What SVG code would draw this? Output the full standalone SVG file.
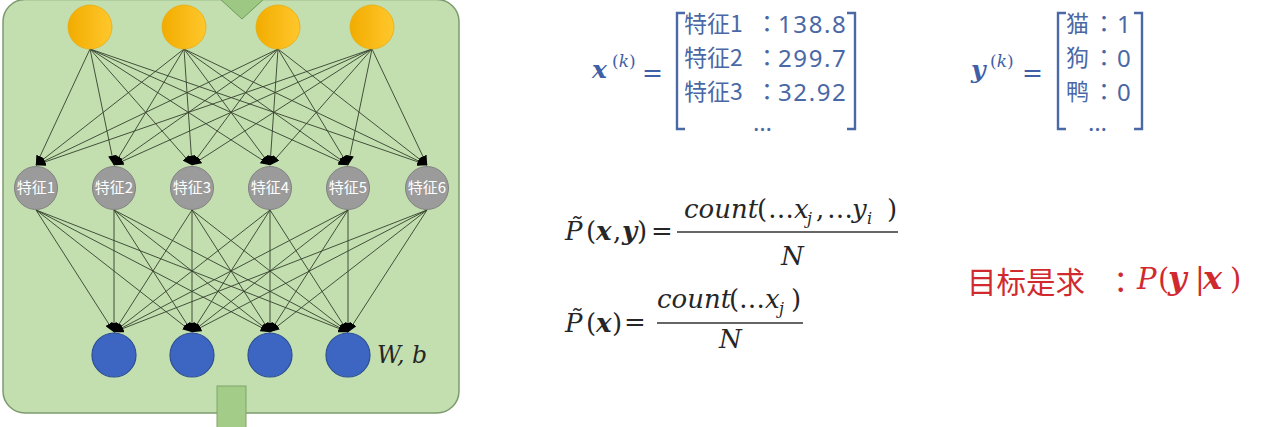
<svg xmlns="http://www.w3.org/2000/svg" width="1274" height="427" viewBox="0 0 1274 427">
<style>
.ln{stroke:#34402c;stroke-width:0.9;fill:none;marker-end:url(#ah)}
.yel{fill:url(#yg);stroke:#e8ac10;stroke-width:0.8}
.gry{fill:#9b9b9b;stroke:#828282;stroke-width:1}
.blu{fill:#3d66c3;stroke:#2c4f93;stroke-width:1.2}
.glab{font-family:"Noto Sans CJK SC","Noto Sans",sans-serif;font-size:15px;fill:#ffffff;text-anchor:middle}
.mt{font-family:"Noto Sans CJK SC","Noto Sans",sans-serif;font-size:23px;fill:#4a68a6}
.md{font-family:"Noto Sans","Noto Sans CJK SC",sans-serif;font-size:24px;fill:#4a68a6}
.mc{font-family:"Noto Sans CJK TC","Noto Sans CJK SC",sans-serif;font-size:23px;fill:#4a68a6;text-anchor:middle}
.br{fill:none;stroke:#4a68a6;stroke-width:2.4}
.vb{font-family:"DejaVu Serif",serif;font-style:italic;font-weight:bold}
.vi{font-family:"DejaVu Serif",serif;font-style:italic;font-weight:normal}
.vu{font-family:"DejaVu Serif",serif;font-style:normal;font-weight:normal}
.blue{fill:#3f5fa6}
.blk{fill:#262626}
.red{fill:#d02a2e}
.fr{stroke:#333333;stroke-width:1.5}
</style>
<defs>
<linearGradient id="yg" x1="0" y1="0" x2="1" y2="0">
<stop offset="0" stop-color="#f2ac00"/>
<stop offset="1" stop-color="#ffc72c"/>
</linearGradient>
<marker id="ah" markerWidth="10" markerHeight="8" refX="9.5" refY="4" orient="auto" markerUnits="userSpaceOnUse">
<path d="M0,0 L10,4 L0,8 z" fill="#000000"/>
</marker>
</defs>
<rect width="1274" height="427" fill="#ffffff"/>
<g id="panel">
<rect x="3" y="-0.5" width="456" height="413.5" rx="22" ry="22" fill="#c3dfb0" stroke="#7d9a6e" stroke-width="1.5"/>
<polygon points="219,-2 265,-2 242,19" fill="#9dc884" stroke="#6f9a5a" stroke-width="1"/>
<rect x="217" y="386" width="29" height="45" fill="#a3cc88" stroke="#7fa566" stroke-width="1"/>
</g>
<g id="connectors">
<line class="ln" x1="90" y1="49" x2="36" y2="165"/><line class="ln" x1="90" y1="49" x2="114" y2="165"/><line class="ln" x1="90" y1="49" x2="192" y2="165"/><line class="ln" x1="90" y1="49" x2="270" y2="165"/><line class="ln" x1="90" y1="49" x2="348" y2="165"/><line class="ln" x1="90" y1="49" x2="427" y2="165"/>
<line class="ln" x1="184" y1="49" x2="36" y2="165"/><line class="ln" x1="184" y1="49" x2="114" y2="165"/><line class="ln" x1="184" y1="49" x2="192" y2="165"/><line class="ln" x1="184" y1="49" x2="270" y2="165"/><line class="ln" x1="184" y1="49" x2="348" y2="165"/><line class="ln" x1="184" y1="49" x2="427" y2="165"/>
<line class="ln" x1="278" y1="49" x2="36" y2="165"/><line class="ln" x1="278" y1="49" x2="114" y2="165"/><line class="ln" x1="278" y1="49" x2="192" y2="165"/><line class="ln" x1="278" y1="49" x2="270" y2="165"/><line class="ln" x1="278" y1="49" x2="348" y2="165"/><line class="ln" x1="278" y1="49" x2="427" y2="165"/>
<line class="ln" x1="372" y1="49" x2="36" y2="165"/><line class="ln" x1="372" y1="49" x2="114" y2="165"/><line class="ln" x1="372" y1="49" x2="192" y2="165"/><line class="ln" x1="372" y1="49" x2="270" y2="165"/><line class="ln" x1="372" y1="49" x2="348" y2="165"/><line class="ln" x1="372" y1="49" x2="427" y2="165"/>
<line class="ln" x1="36" y1="210" x2="114" y2="332"/><line class="ln" x1="36" y1="210" x2="192" y2="332"/><line class="ln" x1="36" y1="210" x2="270" y2="332"/><line class="ln" x1="36" y1="210" x2="348" y2="332"/>
<line class="ln" x1="114" y1="210" x2="114" y2="332"/><line class="ln" x1="114" y1="210" x2="192" y2="332"/><line class="ln" x1="114" y1="210" x2="270" y2="332"/><line class="ln" x1="114" y1="210" x2="348" y2="332"/>
<line class="ln" x1="192" y1="210" x2="114" y2="332"/><line class="ln" x1="192" y1="210" x2="192" y2="332"/><line class="ln" x1="192" y1="210" x2="270" y2="332"/><line class="ln" x1="192" y1="210" x2="348" y2="332"/>
<line class="ln" x1="270" y1="210" x2="114" y2="332"/><line class="ln" x1="270" y1="210" x2="192" y2="332"/><line class="ln" x1="270" y1="210" x2="270" y2="332"/><line class="ln" x1="270" y1="210" x2="348" y2="332"/>
<line class="ln" x1="348" y1="210" x2="114" y2="332"/><line class="ln" x1="348" y1="210" x2="192" y2="332"/><line class="ln" x1="348" y1="210" x2="270" y2="332"/><line class="ln" x1="348" y1="210" x2="348" y2="332"/>
<line class="ln" x1="427" y1="210" x2="114" y2="332"/><line class="ln" x1="427" y1="210" x2="192" y2="332"/><line class="ln" x1="427" y1="210" x2="270" y2="332"/><line class="ln" x1="427" y1="210" x2="348" y2="332"/>
</g>
<g id="input1"><circle class="yel" cx="90" cy="27" r="22"/></g>
<g id="input2"><circle class="yel" cx="184" cy="27" r="22"/></g>
<g id="input3"><circle class="yel" cx="278" cy="27" r="22"/></g>
<g id="input4"><circle class="yel" cx="372" cy="27" r="22"/></g>
<g id="feat1"><circle class="gry" cx="36" cy="188" r="21.5"/><text class="glab" x="36" y="193">特征1</text></g>
<g id="feat2"><circle class="gry" cx="114" cy="188" r="21.5"/><text class="glab" x="114" y="193">特征2</text></g>
<g id="feat3"><circle class="gry" cx="192" cy="188" r="21.5"/><text class="glab" x="192" y="193">特征3</text></g>
<g id="feat4"><circle class="gry" cx="270" cy="188" r="21.5"/><text class="glab" x="270" y="193">特征4</text></g>
<g id="feat5"><circle class="gry" cx="348" cy="188" r="21.5"/><text class="glab" x="348" y="193">特征5</text></g>
<g id="feat6"><circle class="gry" cx="427" cy="188" r="21.5"/><text class="glab" x="427" y="193">特征6</text></g>
<g id="out1"><circle class="blu" cx="114" cy="355" r="22"/></g>
<g id="out2"><circle class="blu" cx="192" cy="355" r="22"/></g>
<g id="out3"><circle class="blu" cx="270" cy="355" r="22"/></g>
<g id="out4"><circle class="blu" cx="348" cy="355" r="22"/><text class="vi blk" x="377" y="363" font-size="24" textLength="50" lengthAdjust="spacingAndGlyphs">W, b</text></g>

<g id="xvec">
<text class="vb blue" font-size="25"><tspan x="592" y="78">x</tspan><tspan class="vu" x="612" y="67" font-size="17">(</tspan><tspan class="vi" font-size="17">k</tspan><tspan class="vu" font-size="17">)</tspan><tspan class="vu" x="642" y="81">=</tspan></text>
<path class="br" d="M685,13 L677,13 L677,129 L685,129"/>
<path class="br" d="M847,13 L855,13 L855,129 L847,129"/>
<text class="mt"><tspan x="684" y="32">特征1</tspan><tspan x="684" y="66">特征2</tspan><tspan x="684" y="100">特征3</tspan></text>
<text class="mc"><tspan x="767" y="32">：</tspan><tspan x="767" y="66">：</tspan><tspan x="767" y="100">：</tspan></text>
<text class="md" letter-spacing="1.6"><tspan x="778" y="33">138.8</tspan><tspan x="778" y="67">299.7</tspan><tspan x="778" y="101">32.92</tspan></text>
<text class="md" x="753" y="131">…</text>
</g>

<g id="yvec">
<text class="vb blue" font-size="25"><tspan x="971" y="78">y</tspan><tspan class="vu" x="990" y="67" font-size="17">(</tspan><tspan class="vi" font-size="17">k</tspan><tspan class="vu" font-size="17">)</tspan><tspan class="vu" x="1022" y="81">=</tspan></text>
<path class="br" d="M1066,13 L1058,13 L1058,129 L1066,129"/>
<path class="br" d="M1134,13 L1142,13 L1142,129 L1134,129"/>
<text class="mt"><tspan x="1066" y="32">猫</tspan><tspan x="1066" y="66">狗</tspan><tspan x="1066" y="100">鸭</tspan></text>
<text class="mc"><tspan x="1104" y="32">：</tspan><tspan x="1104" y="66">：</tspan><tspan x="1104" y="100">：</tspan></text>
<text class="md"><tspan x="1117" y="33">1</tspan><tspan x="1117" y="67">0</tspan><tspan x="1117" y="101">0</tspan></text>
<text class="md" x="1088" y="131">…</text>
</g>

<g id="formula1">
<text class="vi blk" font-size="26"><tspan x="565" y="240">P̃</tspan><tspan class="vu" x="586" y="240">(</tspan><tspan class="vb" x="596" y="240">x</tspan><tspan class="vu" x="613" y="240">,</tspan><tspan class="vb" x="622" y="240">y</tspan><tspan class="vu" x="637" y="240">)</tspan><tspan class="vu" x="651" y="240">=</tspan></text>
<line class="fr" x1="677" y1="232" x2="898" y2="232"/>
<text class="vi blk" font-size="26"><tspan x="684" y="218">count</tspan><tspan class="vu" x="757" y="218">(</tspan><tspan class="vu" x="768" y="218">…</tspan><tspan x="794" y="218">x</tspan><tspan x="807" y="224" font-size="16">j</tspan><tspan class="vu" x="816" y="218">,</tspan><tspan class="vu" x="827" y="218">…</tspan><tspan x="852" y="218">y</tspan><tspan x="867" y="224" font-size="16">i</tspan><tspan class="vu" x="887" y="218">)</tspan></text>
<text class="vi blk" x="781" y="265" font-size="26">N</text>
</g>

<g id="formula2">
<text class="vi blk" font-size="26"><tspan x="565" y="332">P̃</tspan><tspan class="vu" x="586" y="332">(</tspan><tspan class="vb" x="596" y="332">x</tspan><tspan class="vu" x="612" y="332">)</tspan><tspan class="vu" x="624" y="331">=</tspan></text>
<line class="fr" x1="657" y1="323" x2="803" y2="323"/>
<text class="vi blk" font-size="26"><tspan x="657" y="308">count</tspan><tspan class="vu" x="729" y="308">(</tspan><tspan class="vu" x="739" y="308">…</tspan><tspan x="765" y="308">x</tspan><tspan x="779" y="314" font-size="16">j</tspan><tspan class="vu" x="791" y="308">)</tspan></text>
<text class="vi blk" x="719" y="348" font-size="26">N</text>
</g>

<g id="goal">
<text class="red" font-size="29.5"><tspan x="967" y="293" font-family="'Noto Sans CJK SC',sans-serif">目标是求</tspan><tspan x="1106" y="293" font-family="'Noto Sans CJK TC','Noto Sans CJK SC',sans-serif">：</tspan></text>
<text class="vi red" font-size="29"><tspan x="1137" y="289">P</tspan><tspan class="vu" x="1158" y="289">(</tspan><tspan class="vb" x="1168" y="289" font-size="32">y</tspan><tspan class="vu" x="1195" y="289">|</tspan><tspan class="vb" x="1203" y="289" font-size="32">x</tspan><tspan class="vu" x="1230" y="289">)</tspan></text>
</g>
</svg>
